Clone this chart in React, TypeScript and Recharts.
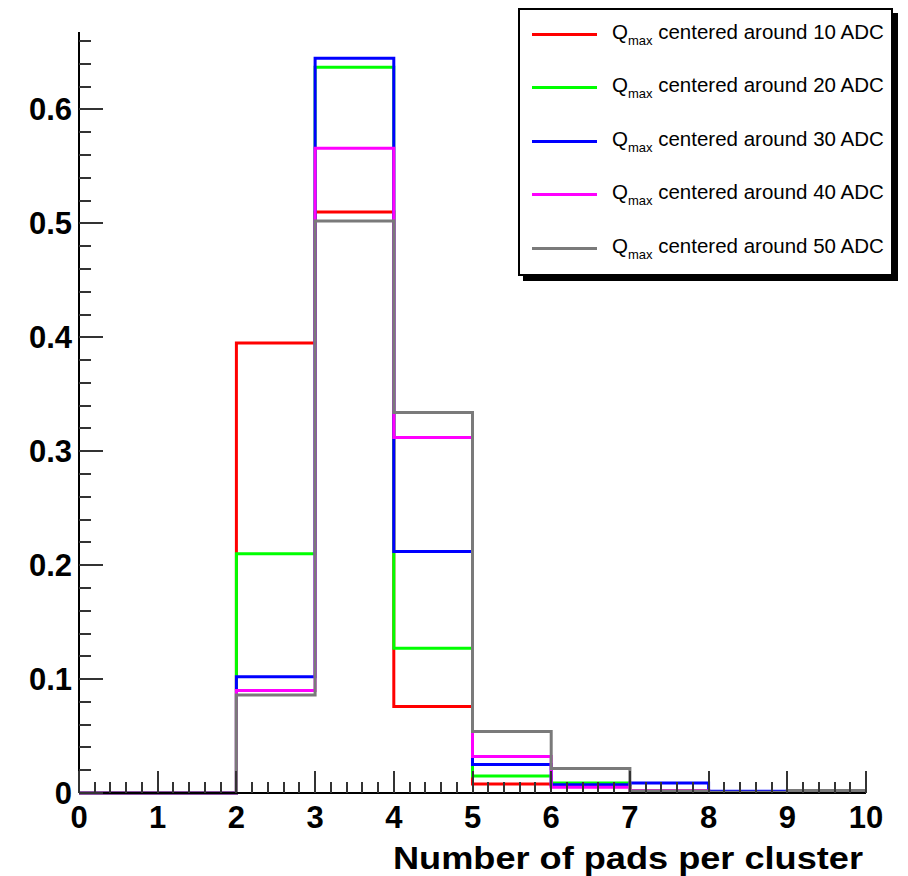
import { LineChart, Line, XAxis, YAxis, Legend } from 'recharts';

// bin lower edges, histograms are normalised per threshold
const binEdges = [0, 1, 2, 3, 4, 5, 6, 7, 8, 9, 10];
const adcLevels = [10, 20, 30, 40, 50];
const colors = ['#ff0000', '#00ff00', '#0000ff', '#ff00ff', '#7a7a7a'];

const q10 = [0, 0, 0.395, 0.51, 0.076, 0.008, 0.006, 0.002, 0.0005, 0.0004];
const q20 = [0, 0, 0.21, 0.637, 0.127, 0.015, 0.0088, 0.002, 0.0005, 0.0004];
const q30 = [0, 0, 0.102, 0.645, 0.212, 0.025, 0.0073, 0.0088, 0.0015, 0.0005];
const q40 = [0, 0, 0.09, 0.566, 0.312, 0.032, 0.005, 0.002, 0.0005, 0.0005];
const q50 = [0, 0, 0.086, 0.502, 0.334, 0.054, 0.0216, 0.0015, 0.0006, 0.0023];

const series = [q10, q20, q30, q40, q50];

const yMajor = [0, 0.1, 0.2, 0.3, 0.4, 0.5, 0.6];
const xMajor = [0, 1, 2, 3, 4, 5, 6, 7, 8, 9, 10];
const yMax = 0.668;

// minor ticks every 0.02 on y, every 0.2 on x
const yTicks: number[] = [];
for (let i = 0; i <= 33; i++) yTicks.push(+(i * 0.02).toFixed(2));
const xTicks: number[] = [];
for (let i = 0; i <= 50; i++) xTicks.push(+(i * 0.2).toFixed(1));

// stepAfter needs the last edge repeated with the last bin content
const rows = binEdges.map((x, i) => {
  const row: Record<string, number> = { x };
  series.forEach((s, k) => {
    row['q' + adcLevels[k]] = i < s.length ? s[i] : s[s.length - 1];
  });
  return row;
});

const font = '"Liberation Sans", Arial, Helvetica, sans-serif';

const isMajor = (v: number, list: number[]) => list.some(m => Math.abs(m - v) < 1e-6);

const YTick = (props: any) => {
  const x = Number(props.x);
  const y = Number(props.y);
  const major = isMajor(props.payload.value, yMajor);
  const len = major ? 24 : 12;
  return (
    <g>
      <rect x={x} y={Math.round(y) - 1} width={len} height={2} fill="#333" />
      {major && (
        <text x={x - 7} y={y} dy={11} textAnchor="end" fontFamily={font} fontWeight="bold" fontSize={31} fill="#000">
          {props.payload.value === 0 ? '0' : props.payload.value.toFixed(1)}
        </text>
      )}
    </g>
  );
};

const XTick = (props: any) => {
  const x = Number(props.x);
  const y = Number(props.y);
  const major = isMajor(props.payload.value, xMajor);
  const len = major ? 22 : 11;
  return (
    <g>
      <rect x={Math.round(x) - 1} y={y - len} width={2} height={len} fill="#333" />
      {major && (
        <text x={x} y={y + 35} textAnchor="middle" fontFamily={font} fontWeight="bold" fontSize={31} fill="#000">
          {Math.round(props.payload.value)}
        </text>
      )}
    </g>
  );
};

const LegendBox = (props: any) => {
  const { payload } = props;
  return (
    <div
      style={{
        position: 'relative',
        width: 375,
        height: 268,
        boxSizing: 'border-box',
        border: '2px solid #000',
        background: '#fff',
        boxShadow: '5px 5px 0 #000',
        fontFamily: font,
      }}
    >
      {(payload || []).map((item: any, i: number) => {
        const c = 24 + i * 53.5;
        return (
          <div key={item.value}>
            <div style={{ position: 'absolute', left: 12, top: c - 1.5, width: 65, height: 3, background: item.color }} />
            <div
              style={{
                position: 'absolute',
                left: 92,
                top: c - 15.5,
                height: 26,
                lineHeight: '26px',
                fontSize: 20.5,
                color: '#000',
                whiteSpace: 'nowrap',
              }}
            >
              Q<span style={{ fontSize: 13, verticalAlign: '-6px' }}>max</span> centered around {adcLevels[i]} ADC
            </div>
          </div>
        );
      })}
    </div>
  );
};

export default function App() {
  return (
    <div style={{ position: 'absolute', left: 0, top: 0, background: '#fff' }}>
      <LineChart width={908} height={876} data={rows} margin={{ top: 32, right: 42, bottom: 0, left: 0 }}>
        <XAxis
          dataKey="x"
          type="number"
          domain={[0, 10]}
          ticks={xTicks}
          interval={0}
          height={83}
          tickSize={0}
          tickMargin={0}
          tickLine={false}
          tick={XTick}
          axisLine={{ stroke: '#000', strokeWidth: 2 }}
          label={{
            value: 'Number of pads per cluster',
            position: 'insideBottomRight',
            offset: 0,
            dx: -3,
            dy: -7,
            fontFamily: font,
            fontWeight: 'bold',
            fontSize: 32,
            fill: '#000',
            textLength: 470,
            lengthAdjust: 'spacingAndGlyphs',
          }}
        />
        <XAxis xAxisId="top" orientation="top" type="number" domain={[0, 10]} height={0} tick={false} tickLine={false} axisLine={{ stroke: '#000', strokeWidth: 2 }} />
        <YAxis
          type="number"
          domain={[0, yMax]}
          ticks={yTicks}
          interval={0}
          width={79}
          tickSize={0}
          tickMargin={0}
          tickLine={false}
          tick={YTick}
          axisLine={{ stroke: '#000', strokeWidth: 2 }}
        />
        <YAxis yAxisId="right" orientation="right" type="number" domain={[0, yMax]} width={0} tick={false} tickLine={false} axisLine={{ stroke: '#000', strokeWidth: 2 }} />
        <Legend
          layout="vertical"
          align="center"
          verticalAlign="middle"
          content={<LegendBox />}
          wrapperStyle={{ left: 518, top: 8, width: 380, height: 275 }}
        />
        {adcLevels.map((adc, k) => (
          <Line
            key={adc}
            dataKey={'q' + adc}
            name={'Qmax centered around ' + adc + ' ADC'}
            type="stepAfter"
            stroke={colors[k]}
            strokeWidth={3}
            dot={false}
            activeDot={false}
            isAnimationActive={false}
          />
        ))}
      </LineChart>
    </div>
  );
}
